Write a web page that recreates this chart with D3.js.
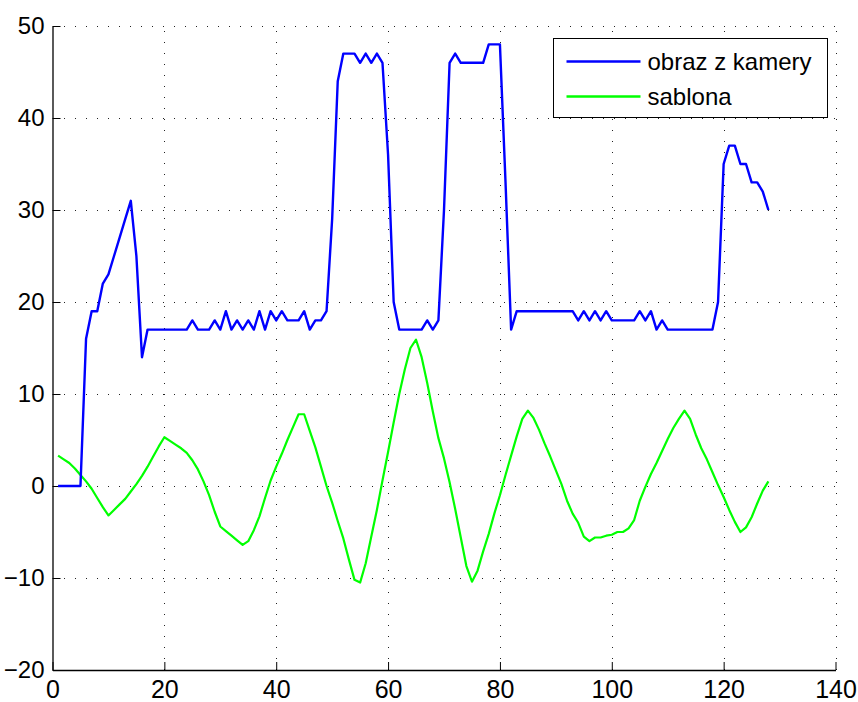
<!DOCTYPE html>
<html>
<head>
<meta charset="utf-8">
<script src="https://cdn.jsdelivr.net/npm/d3@7"></script>
<style>
  body { margin: 0; background: #fff; }
  svg { display: block; font-family: "Liberation Sans", Arial, sans-serif; }
</style>
</head>
<body>
<svg width="858" height="702"></svg>
<script>
// sample index 1..128
var obraz = [0,0,0,0,0,16,19,19,22,23,25,27,29,31,25,14,17,17,17,17,
  17,17,17,17,18,17,17,17,18,17,19,17,18,17,18,17,19,17,19,18,
  19,18,18,18,19,17,18,18,19,29,44,47,47,47,46,47,46,47,46,36,
  20,17,17,17,17,17,18,17,18,30,46,47,46,46,46,46,46,48,48,48,
  33,17,19,19,19,19,19,19,19,19,19,19,19,18,19,18,19,18,19,18,
  18,18,18,18,19,18,19,17,18,17,17,17,17,17,17,17,17,17,20,35,
  37,37,35,35,33,33,32,30];
var sablona = [3.3,2.9,2.5,1.9,1.2,0.5,-0.3,-1.3,-2.3,-3.2,-2.6,-2.0,-1.4,-0.6,0.2,1.1,2.1,3.2,4.3,5.3,
  4.9,4.5,4.1,3.6,2.8,1.8,0.5,-1.0,-2.8,-4.4,-4.9,-5.4,-5.9,-6.4,-6.0,-4.8,-3.3,-1.3,0.6,2.1,
  3.5,5.0,6.4,7.8,7.8,6.0,4.2,2.1,0.0,-1.8,-3.8,-5.7,-8.0,-10.2,-10.5,-8.4,-5.5,-2.6,0.6,3.7,
  6.9,10.0,12.7,15.0,15.9,14.0,11.2,8.1,5.2,3.0,0.4,-2.5,-5.6,-8.7,-10.4,-9.2,-7.1,-5.2,-3.0,-1.0,
  1.2,3.3,5.4,7.3,8.2,7.4,6.1,4.6,3.2,1.7,0.2,-1.6,-3.0,-4.0,-5.5,-6.0,-5.6,-5.6,-5.4,-5.3,
  -5.0,-5.0,-4.6,-3.7,-1.6,-0.1,1.3,2.5,3.8,5.1,6.3,7.3,8.2,7.3,5.6,4.1,2.9,1.5,0.1,-1.2,
  -2.6,-3.9,-5.0,-4.5,-3.4,-1.9,-0.5,0.5];
var xTicks = [0,20,40,60,80,100,120,140];
var yTicks = [-20,-10,0,10,20,30,40,50];
var seriesNames = ["obraz z kamery", "sablona"];
var seriesColors = ["#0000ff", "#00ff00"];

var svg = d3.select("svg");
var x = d3.scaleLinear().domain([0,140]).range([52.5, 835.5]);
var y = d3.scaleLinear().domain([-20,50]).range([670, 26]);

// grid
var grid = svg.append("g").attr("stroke", "#222").attr("stroke-width", 1)
  .attr("stroke-dasharray", "1,10").attr("shape-rendering", "crispEdges");
grid.selectAll(".gx").data(xTicks.slice(1)).enter().append("line")
  .attr("x1", function(d){return Math.round(x(d))+0.5;}).attr("x2", function(d){return Math.round(x(d))+0.5;})
  .attr("y1", y(-20)).attr("y2", y(50));
grid.selectAll(".gy").data(yTicks.slice(1)).enter().append("line")
  .attr("y1", function(d){return Math.round(y(d))+0.5;}).attr("y2", function(d){return Math.round(y(d))+0.5;})
  .attr("x1", x(0)).attr("x2", x(140));

// axes
var xAxis = svg.append("g").attr("transform", "translate(0," + y(-20) + ")")
  .call(d3.axisBottom(x).tickValues(xTicks).tickSize(-8).tickSizeOuter(0).tickPadding(10));
var yAxis = svg.append("g").attr("transform", "translate(" + x(0) + ",0)")
  .call(d3.axisLeft(y).tickValues(yTicks).tickSize(-8).tickSizeOuter(0).tickPadding(8));
[xAxis, yAxis].forEach(function(a){
  a.select(".domain").attr("stroke", "#000").attr("stroke-width", 1.3);
  a.selectAll(".tick line").attr("stroke", "#000");
  a.selectAll("text").attr("font-size", 24).attr("fill", "#000")
    .attr("font-family", "Liberation Sans, Arial, sans-serif");
});
xAxis.selectAll("text").attr("dy", "0.71em").attr("font-size", 25);

// lines
var line = d3.line().x(function(d,i){return x(i+1);}).y(function(d){return y(d);});
svg.append("path").datum(sablona).attr("d", line).attr("fill", "none")
  .attr("stroke", seriesColors[1]).attr("stroke-width", 2.2).attr("stroke-linejoin", "round");
svg.append("path").datum(obraz).attr("d", line).attr("fill", "none")
  .attr("stroke", seriesColors[0]).attr("stroke-width", 2.4).attr("stroke-linejoin", "round");

// legend
var lg = svg.append("g").attr("transform", "translate(553.5,38.5)");
lg.append("rect").attr("width", 274).attr("height", 79).attr("fill", "#fff").attr("stroke", "#000");
seriesNames.forEach(function(n, i){
  var cy = 23 + i*35;
  lg.append("line").attr("x1", 13).attr("x2", 87).attr("y1", cy).attr("y2", cy)
    .attr("stroke", seriesColors[i]).attr("stroke-width", 2.4);
  lg.append("text").attr("x", 94).attr("y", cy).attr("dy", "0.35em")
    .attr("font-size", 24).text(n);
});
</script>
</body>
</html>
